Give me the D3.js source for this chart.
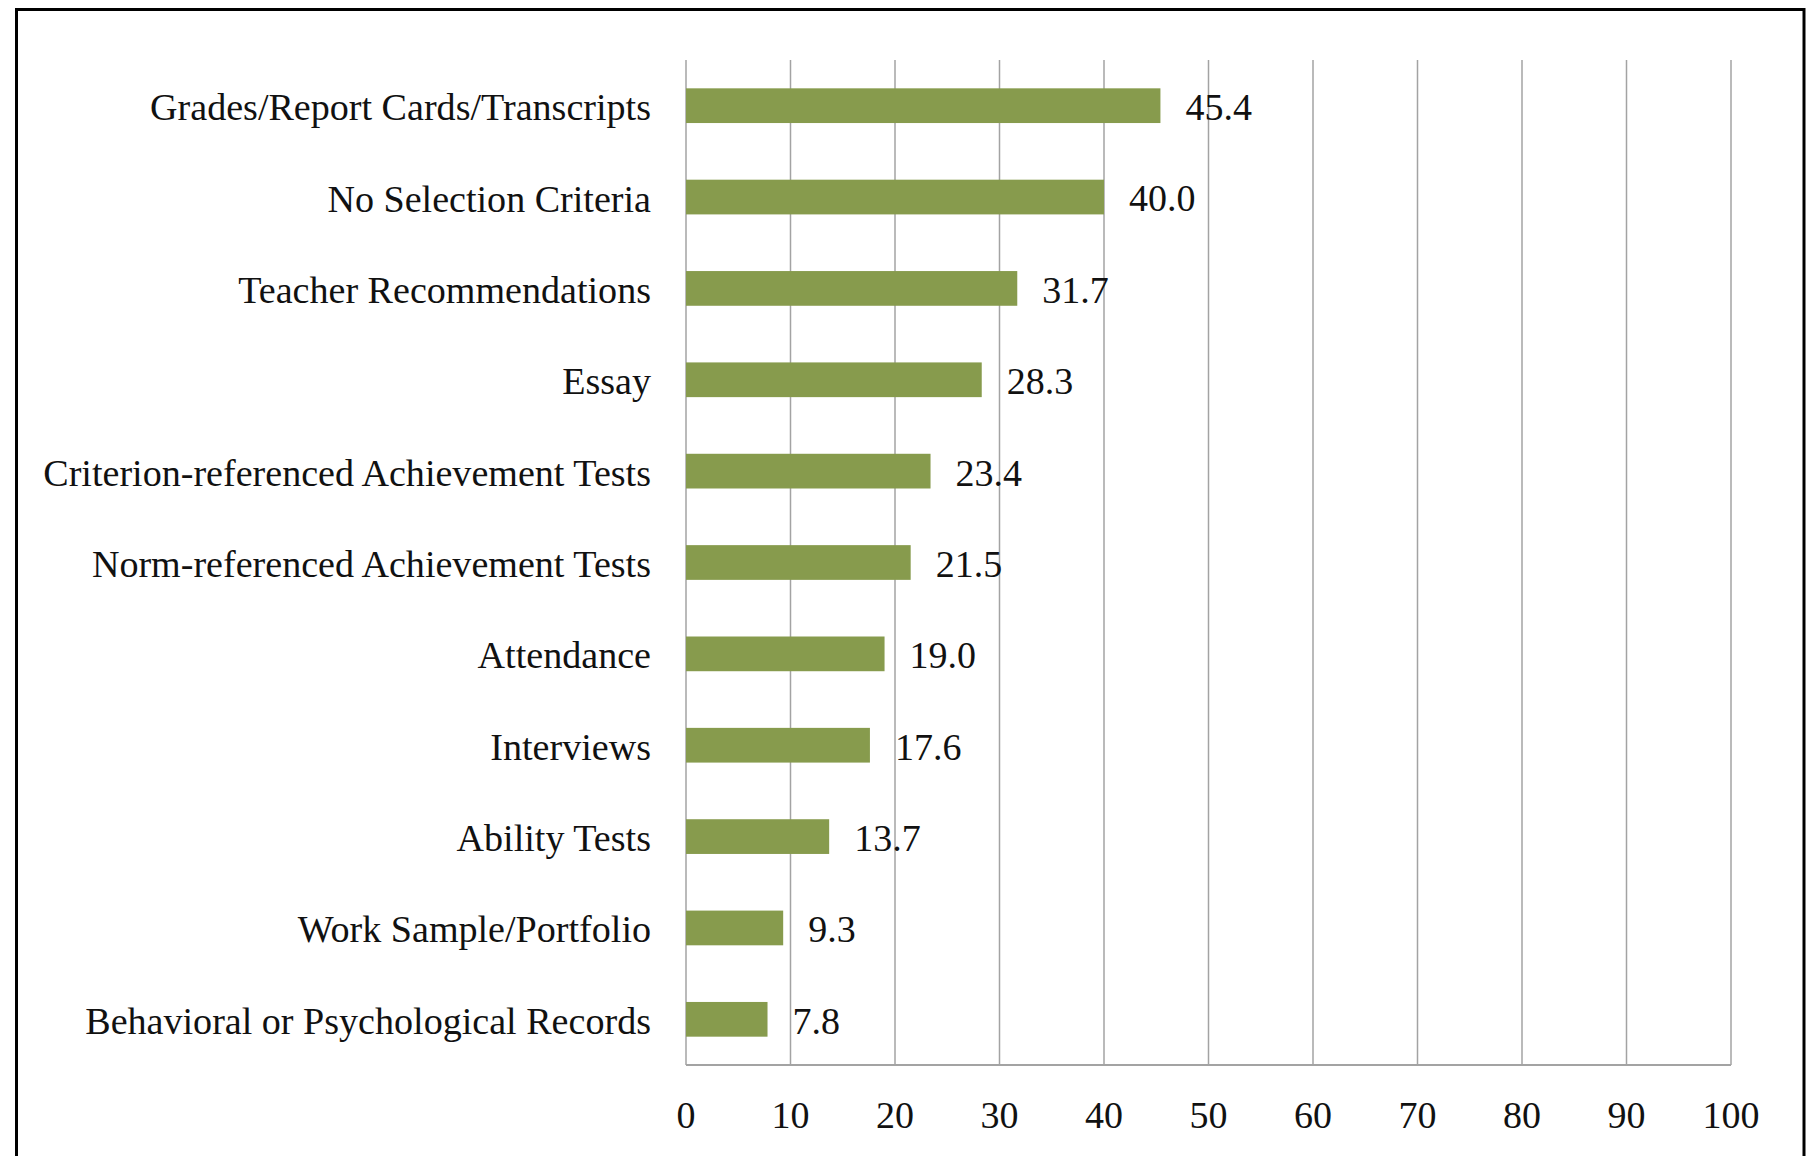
<!DOCTYPE html>
<html>
<head>
<meta charset="utf-8">
<script src="https://cdn.jsdelivr.net/npm/d3@7"></script>
<style>
  html, body { margin: 0; padding: 0; background: #fff; }
  text { font-family: "Liberation Serif", "Times New Roman", serif; fill: #111; }
</style>
</head>
<body>
<div id="chart"></div>
<script>
var categories = [
  "Grades/Report Cards/Transcripts",
  "No Selection Criteria",
  "Teacher Recommendations",
  "Essay",
  "Criterion-referenced Achievement Tests",
  "Norm-referenced Achievement Tests",
  "Attendance",
  "Interviews",
  "Ability Tests",
  "Work Sample/Portfolio",
  "Behavioral or Psychological Records"
];
var values = [45.4, 40.0, 31.7, 28.3, 23.4, 21.5, 19.0, 17.6, 13.7, 9.3, 7.8];
var xTicks = [0, 10, 20, 30, 40, 50, 60, 70, 80, 90, 100];

var W = 1814, H = 1156,
    plotL = 686, plotR = 1731, plotT = 60, plotB = 1065,
    fmt = d3.format(".1f");

var x = d3.scaleLinear().domain([0, 100]).range([plotL, plotR]);
var y = d3.scaleBand().domain(categories).range([plotT, plotB])
      .paddingInner(0.62).paddingOuter(0.31);

var svg = d3.select("#chart")
    .append("svg")
    .attr("width", W)
    .attr("height", H);

// frame round the whole picture (bottom edge runs off the page)
svg.append("rect")
    .attr("x", 16.5)
    .attr("y", 9.5)
    .attr("width", 1804 - 16.5)
    .attr("height", 1200)
    .style("fill", "none")
    .style("stroke", "#000")
    .style("stroke-width", 3);

// vertical gridlines
svg.selectAll(".grid")
    .data(xTicks)
    .enter()
    .append("line")
    .attr("class", "grid")
    .attr("x1", function(d) { return x(d); })
    .attr("x2", function(d) { return x(d); })
    .attr("y1", plotT)
    .attr("y2", plotB)
    .style("stroke", "#a3a3a3")
    .style("stroke-width", 1.5);

// bottom axis line
svg.append("line")
    .attr("x1", x(0))
    .attr("x2", x(100))
    .attr("y1", plotB)
    .attr("y2", plotB)
    .style("stroke", "#a3a3a3")
    .style("stroke-width", 2);

svg.selectAll(".xlabel")
    .data(xTicks)
    .enter()
    .append("text")
    .attr("class", "xlabel")
    .attr("x", function(d) { return x(d); })
    .attr("y", 1128)
    .attr("text-anchor", "middle")
    .style("font-size", "38px")
    .text(function(d) { return d; });

// bars
svg.selectAll(".bar")
    .data(values)
    .enter()
    .append("rect")
    .attr("class", "bar")
    .attr("x", x(0))
    .attr("y", function(d, i) { return y(categories[i]); })
    .attr("width", function(d) { return x(d) - x(0); })
    .attr("height", y.bandwidth())
    .style("fill", "#879b4d");

svg.selectAll(".vlabel")
    .data(values)
    .enter()
    .append("text")
    .attr("class", "vlabel")
    .attr("x", function(d) { return x(d) + 25; })
    .attr("y", function(d, i) { return y(categories[i]) + y.bandwidth() / 2; })
    .attr("dy", "0.38em")
    .style("font-size", "38px")
    .text(function(d) { return fmt(d); });

// category labels
svg.selectAll(".ylabel")
    .data(categories)
    .enter()
    .append("text")
    .attr("class", "ylabel")
    .attr("x", 651)
    .attr("y", function(d) { return y(d) + y.bandwidth() / 2; })
    .attr("dy", "0.38em")
    .attr("text-anchor", "end")
    .style("font-size", "38.1px")
    .text(function(d) { return d; });
</script>
</body>
</html>
